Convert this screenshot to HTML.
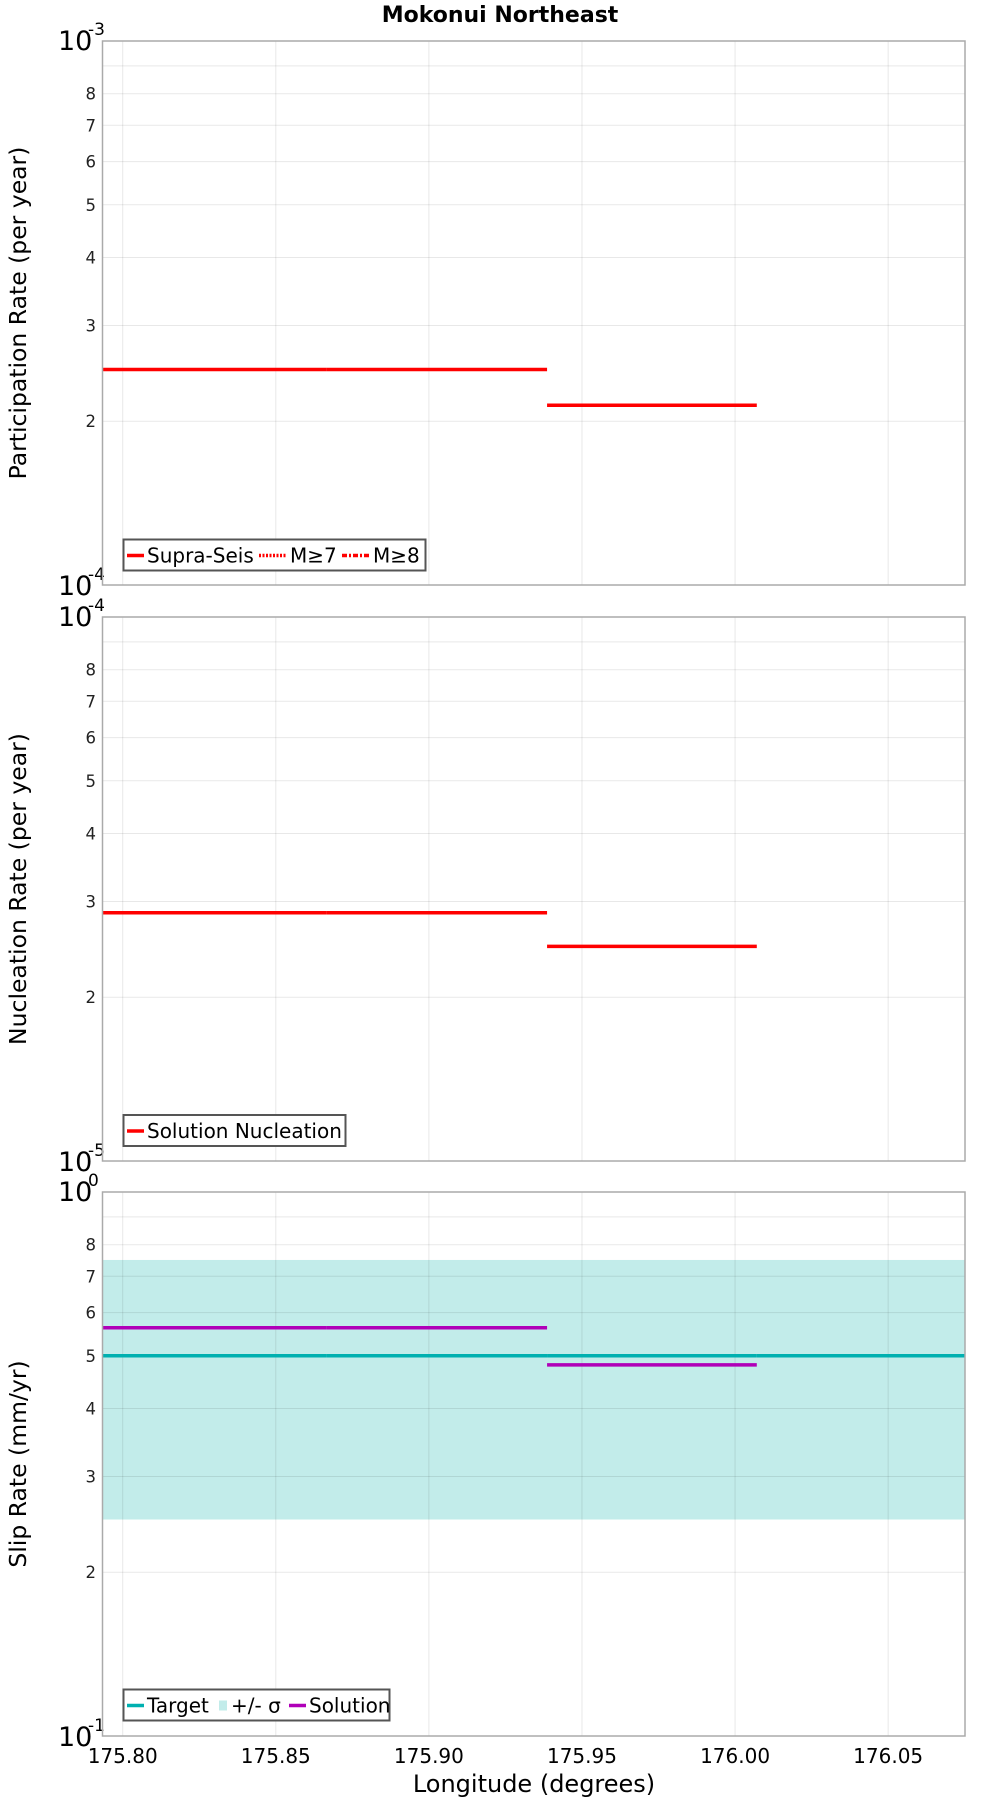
<!DOCTYPE html>
<html><head><meta charset="utf-8">
<style>
html,body{margin:0;padding:0;background:#fff;}
svg{display:block;font-family:"DejaVu Sans","Liberation Sans",sans-serif;}
</style></head>
<body>
<svg id="chart" width="1000" height="1800" viewBox="0 0 1000 1800" xmlns="http://www.w3.org/2000/svg">
<text x="500" y="22" text-anchor="middle" font-size="22" font-weight="bold">Mokonui Northeast</text>
<text x="534" y="1792" text-anchor="middle" font-size="24">Longitude (degrees)</text>
</svg>
<script>
// ---- data ----
const xTicks = [175.80, 175.85, 175.90, 175.95, 176.00, 176.05];
const xTickLabels = ["175.80","175.85","175.90","175.95","176.00","176.05"];
const sectionStarts = [175.7934, 175.8666, 175.9386];
const sectionEnds = [175.8666, 175.9386, 176.0071];
const participationRates = [2.49e-4, 2.49e-4, 2.14e-4];
const nucleationRates = [2.86e-5, 2.86e-5, 2.48e-5];
const solutionSlip = [5.63, 5.63, 4.81];
const targetSlip = [5.0, 5.0, 5.0, 5.0];
const targetStarts = [175.7934, 175.8666, 175.9386, 176.0071];
const targetEnds = [175.8666, 175.9386, 176.0071, 176.0751];
const slipSigmaLow = 2.5;
const slipSigmaHigh = 7.5;
const minorTickLabels = ["2","3","4","5","6","7","8"];

const NS = "http://www.w3.org/2000/svg";
const svg = document.getElementById("chart");
const X0 = 102.5, X1 = 965, LON0 = 175.7934, LON1 = 176.0751;
function xScale(v){ return X0 + (v - LON0) / (LON1 - LON0) * (X1 - X0); }
function mk(tag, attrs, parent){
  const e = document.createElementNS(NS, tag);
  for (const k in attrs) e.setAttribute(k, attrs[k]);
  (parent || svg).appendChild(e);
  return e;
}

const panels = [
  {name:"participation", top:41, bottom:585, decLow:-4, scale:1e-4, title:"Participation Rate (per year)"},
  {name:"nucleation", top:617, bottom:1161, decLow:-5, scale:1e-5, title:"Nucleation Rate (per year)"},
  {name:"slip", top:1192, bottom:1736, decLow:-1, scale:0.1, title:"Slip Rate (mm/yr)"}
];

panels.forEach(function(p, pi){
  const g = mk("g", {});
  
  
  p.y = function(v){ const l = Math.log10(v) - p.decLow; return p.bottom - l * (p.bottom - p.top); };
  mk("rect", {x:X0, y:p.top, width:X1-X0, height:p.bottom-p.top, fill:"#fff"}, g);
  if (p.name === "slip") {
    const band = mk("rect", {x:X0, y:p.y(slipSigmaHigh*p.scale), width:X1-X0, height:p.y(slipSigmaLow*p.scale)-p.y(slipSigmaHigh*p.scale), fill:"#c2ecea"}, g);
    
    
  }
  for (let m = 2; m <= 9; m++) {
    const yy = p.y(m * p.scale);
    const gl = mk("line", {x1:X0, x2:X1, y1:yy, y2:yy, stroke:"#000", "stroke-opacity":"0.09", "stroke-width":1}, g);
    
    
  }
  xTicks.forEach(function(t){
    const xx = xScale(t);
    const gl = mk("line", {x1:xx, x2:xx, y1:p.top, y2:p.bottom, stroke:"#000", "stroke-opacity":"0.09", "stroke-width":1}, g);
    
    
  });
  minorTickLabels.forEach(function(lb){
    const t = mk("text", {x:96, y:p.y(parseFloat(lb)*p.scale)+6, "text-anchor":"end", "font-size":16.5, fill:"#222"}, g);
    t.textContent = lb;
    
    
  });
  [[p.top+9, p.decLow+1],[p.bottom+10, p.decLow]].forEach(function(a){
    const t = mk("text", {x:58, y:a[0], "font-size":27}, g);
    t.textContent = "10";
    
    
    const s = mk("text", {x:88, y:a[0]-15, "font-size":17}, g);
    s.textContent = String(a[1]);
    
    
  });
  const cy = (p.top + p.bottom) / 2;
  const yt = mk("text", {x:0, y:0, transform:"translate(26 "+cy+") rotate(-90)", "text-anchor":"middle", "font-size":23.5}, g);
  yt.textContent = p.title;
  
  
  function seg(starts, ends, vals, color, name){
    vals.forEach(function(v, i){
      const yy = p.y(v * (p.name === "slip" ? p.scale*10 : 1));
      const l = mk("line", {x1:xScale(starts[i]), x2:xScale(ends[i]), y1:yy, y2:yy, stroke:color, "stroke-width":3.5}, g);
      
      
    });
  }
  if (p.name === "participation") {
    seg(sectionStarts, sectionEnds, participationRates, "#ff0000", "supra-seis-line");
  } else if (p.name === "nucleation") {
    seg(sectionStarts, sectionEnds, nucleationRates, "#ff0000", "solution-nucleation-line");
  } else {
    seg(targetStarts, targetEnds, targetSlip.map(function(v){return v/10;}), "#00b0b0", "target-line");
    seg(sectionStarts, sectionEnds, solutionSlip.map(function(v){return v/10;}), "#b000b8", "solution-line");
  }
  mk("rect", {x:X0, y:p.top, width:X1-X0, height:p.bottom-p.top, fill:"none", stroke:"#aaa", "stroke-width":1.5}, g);
});

xTicks.forEach(function(t, i){
  const tx = mk("text", {x:xScale(t), y:1763, "text-anchor":"middle", "font-size":20});
  tx.textContent = xTickLabels[i];
  
  
});

function legend(y, w, items, name){
  const g = mk("g", {});
  
  
  mk("rect", {x:123.5, y:y, width:w, height:31, fill:"#fff", stroke:"#555", "stroke-width":2}, g);
  let x = 127;
  items.forEach(function(it){
    if (it.type === "band") {
      mk("rect", {x:x+2, y:y+11, width:8, height:10, fill:"#c2ecea"}, g);
      x += 14;
    } else {
      const l = mk("line", {x1:x, x2:x+(it.w||17), y1:y+16, y2:y+16, stroke:it.color, "stroke-width":3.5}, g);
      if (it.dash) l.setAttribute("stroke-dasharray", it.dash);
      x += (it.w||17) + 3;
    }
    const t = mk("text", {x:x, y:y+23, "font-size":20}, g);
    t.textContent = it.label;
    
    
    x += it.tw + 6;
  });
}
legend(539.5, 302, [
  {color:"#ff0000", label:"Supra-Seis", tw:106},
  {color:"#ff0000", label:"M≥7", tw:46, dash:"2 1.5", w:28},
  {color:"#ff0000", label:"M≥8", tw:46, dash:"5 2 2 2", w:28}
], "participation-legend");
legend(1115, 222, [
  {color:"#ff0000", label:"Solution Nucleation", tw:190}
], "nucleation-legend");
legend(1689.5, 266, [
  {color:"#00b0b0", label:"Target", tw:64},
  {type:"band", label:"+/- σ", tw:52},
  {color:"#b000b8", label:"Solution", tw:85}
], "slip-legend");
</script>
</body></html>
